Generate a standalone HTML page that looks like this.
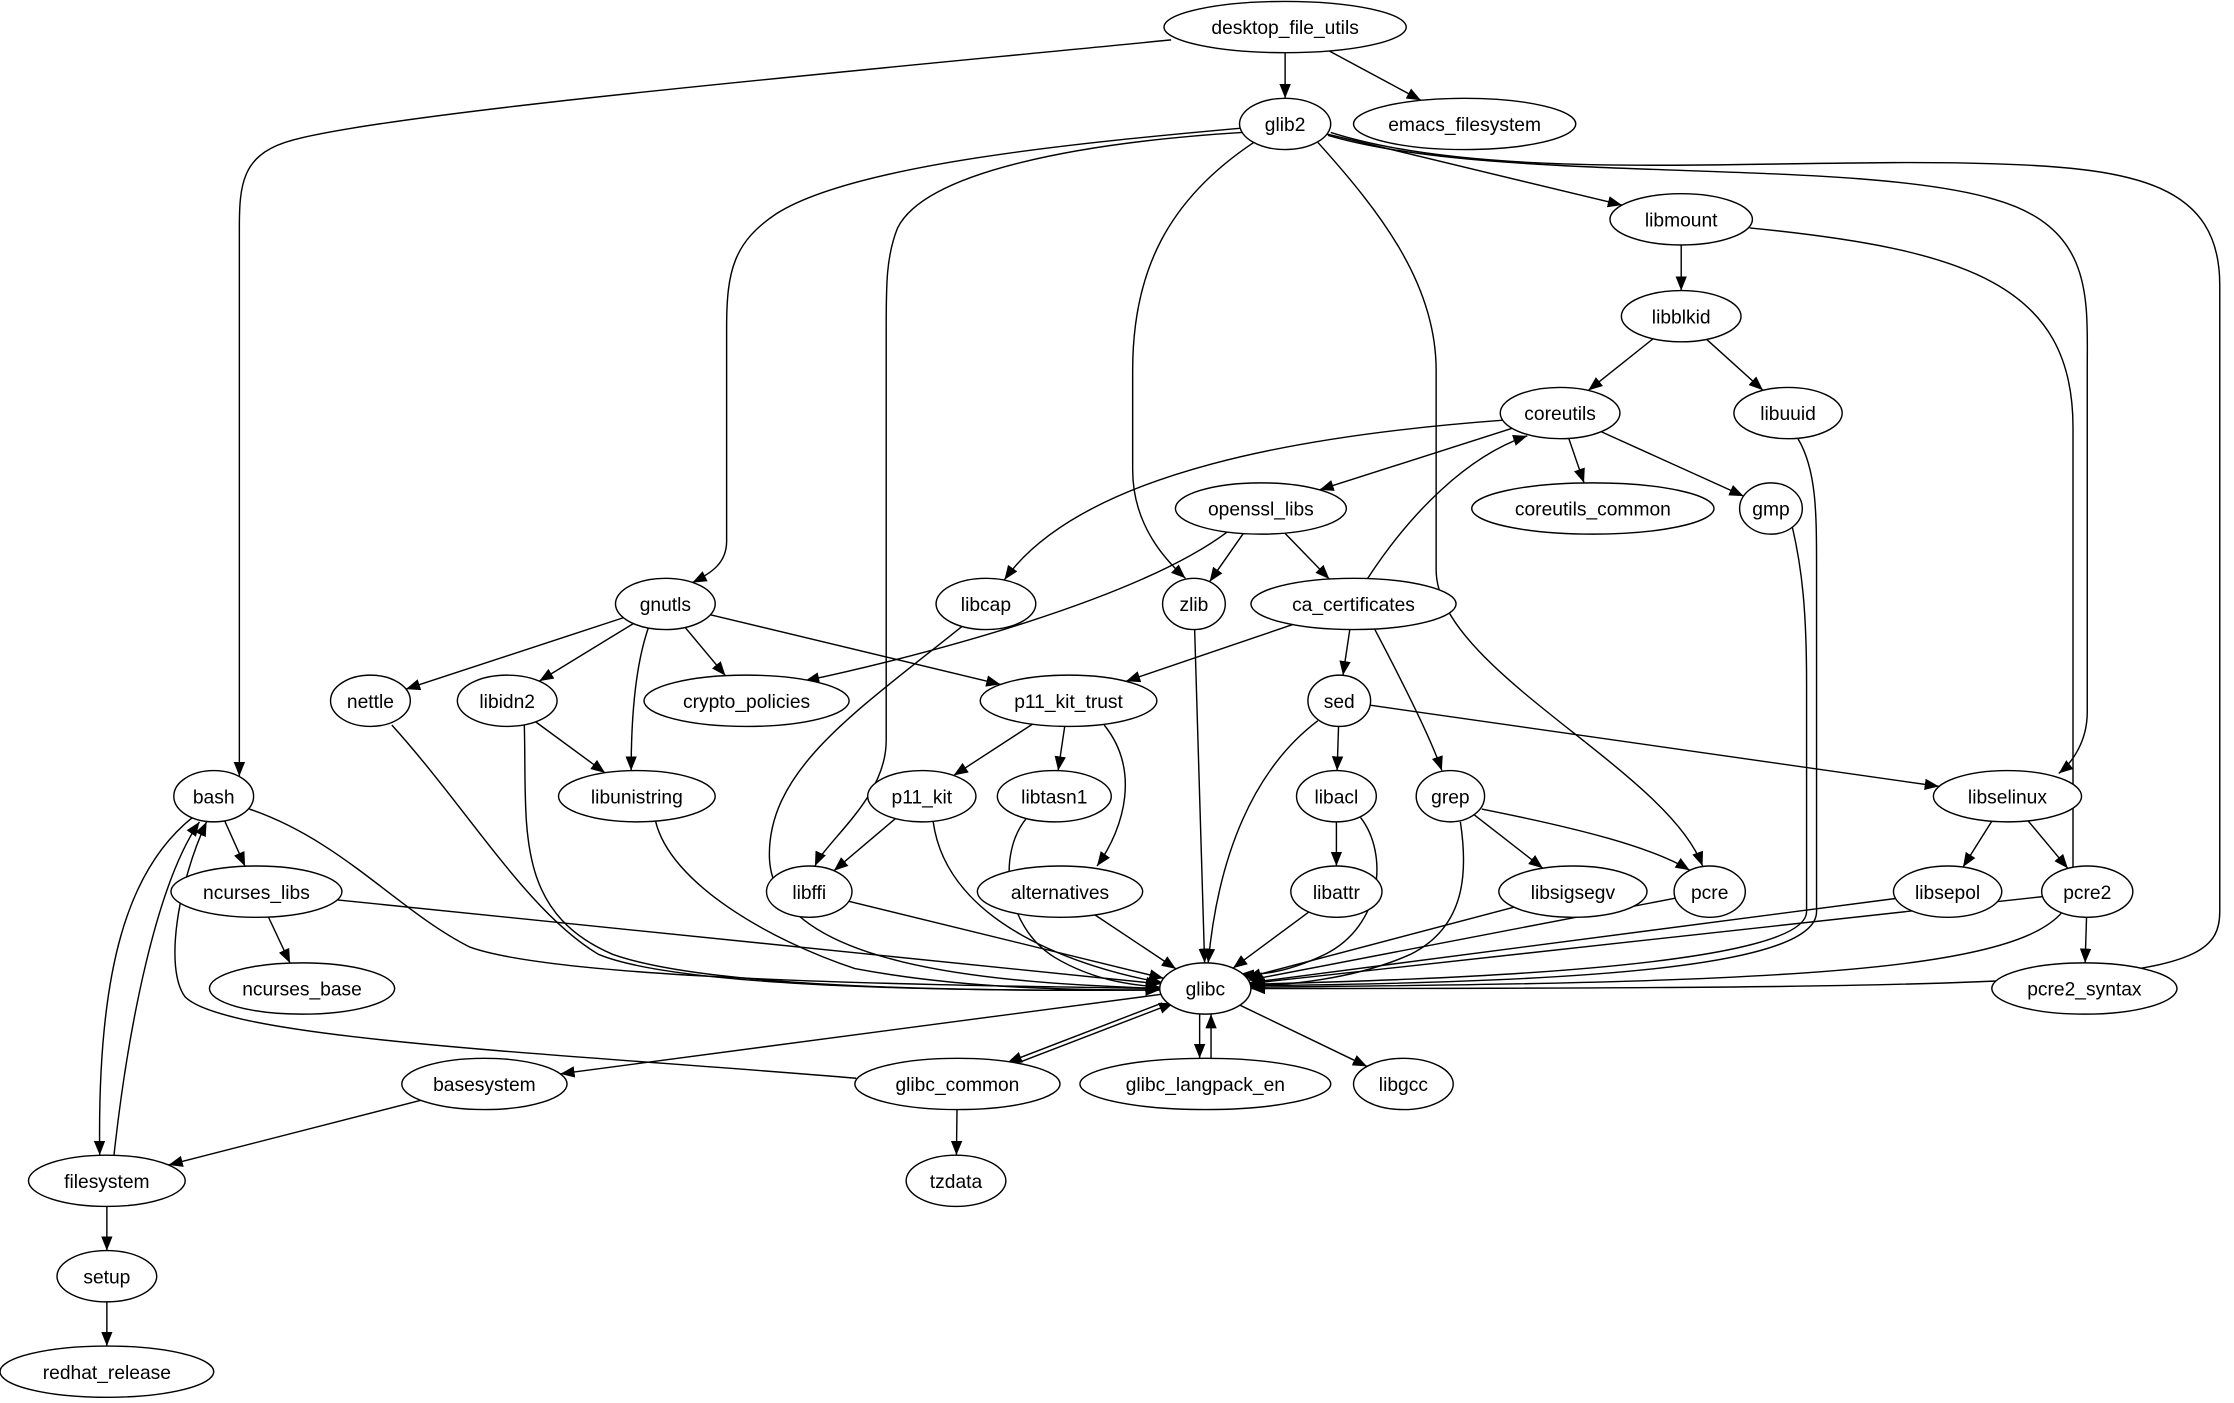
<!DOCTYPE html>
<html><head><meta charset="utf-8"><style>
html,body{margin:0;padding:0;background:#fff;}
svg{display:block;}
text{font-family:"Liberation Sans","DejaVu Sans",sans-serif;font-size:13.5px;fill:#000;}
</style></head><body>
<svg id="g" width="2234" height="1403" viewBox="0 0 1568 985" preserveAspectRatio="none" xmlns="http://www.w3.org/2000/svg">
<defs><marker id="a" markerUnits="userSpaceOnUse" markerWidth="12" markerHeight="10" refX="10" refY="4" orient="auto"><path d="M0,0 L10,4 L0,8 z" fill="#000"/></marker></defs>
<g id="E"></g><g id="N"></g>
</svg>
<script>
var N={
desktop_file_utils:[902,19,85],glib2:[902,87,32],emacs_filesystem:[1028,87,78],libmount:[1180,154,50],
libblkid:[1180,222,42],coreutils:[1095,290,42],libuuid:[1255,290,38],openssl_libs:[885,357,60],
coreutils_common:[1118,357,85],gmp:[1243,357,22],gnutls:[467,424,35],libcap:[692,424,35],zlib:[838,424,22],
ca_certificates:[950,424,72],nettle:[260,492,28],libidn2:[356,492,35],crypto_policies:[524,492,72],
p11_kit_trust:[750,492,62],sed:[940,492,22],bash:[150,559,28],libunistring:[447,559,55],p11_kit:[647,559,38],
libtasn1:[740,559,40],libacl:[938,559,28],grep:[1018,559,24],libselinux:[1409,559,52],ncurses_libs:[180,626,60],
libffi:[568,626,30],alternatives:[744,626,58],libattr:[938,626,32],libsigsegv:[1104,626,52],pcre:[1200,626,25],
libsepol:[1367,626,38],pcre2:[1465,626,32],ncurses_base:[212,694,65],glibc:[846,694,32],pcre2_syntax:[1463,694,65],
basesystem:[340,761,58],glibc_common:[672,761,72],glibc_langpack_en:[846,761,88],libgcc:[985,761,35],
filesystem:[75,829,55],tzdata:[671,829,35],setup:[75,896,35],redhat_release:[75,963,75]};
var RY=18;
var E=[
["desktop_file_utils","glib2"],["desktop_file_utils","emacs_filesystem"],
"M822,28 C600,50 260,80 200,100 C170,110 168,130 168,160 L168,545",
"M871,90 C760,100 600,115 545,150 C515,170 510,190 510,230 L510,380 C510,395 500,402 486,409",
"M872,93 C760,100 650,120 630,160 C622,180 622,200 622,230 L622,520 C622,560 580,590 572,608",
"M880,100 C820,140 795,190 795,260 L795,330 C795,370 820,395 832,406",
"M925,100 C970,150 1008,200 1008,260 L1008,400 C1008,470 1170,540 1195,608",
["glib2","libmount"],
"M932,95 C1050,130 1300,110 1400,140 C1470,160 1465,210 1465,260 L1465,500 C1465,520 1455,535 1445,543",
"M934,93 C1050,130 1250,110 1400,115 C1500,118 1558,130 1558,200 L1558,640 C1558,690 1500,694 878,694",
["libmount","libblkid"],
"M1228,160 C1380,175 1455,200 1455,300 L1455,620 C1455,680 1300,690 878,693",
["libblkid","coreutils"],["libblkid","libuuid"],
"M1262,308 C1275,330 1275,360 1275,400 L1275,640 C1275,680 1100,690 878,692",
["coreutils","openssl_libs"],["coreutils","coreutils_common"],["coreutils","gmp"],
"M1055,295 C920,305 760,330 705,407",
"M1258,370 C1265,400 1268,430 1268,480 L1268,640 C1268,680 1000,688 878,691",
["openssl_libs","zlib"],["openssl_libs","ca_certificates"],
"M862,373 C800,420 650,460 565,478",
"M960,406 C990,360 1030,320 1072,306",
["ca_certificates","p11_kit_trust"],["ca_certificates","sed"],
"M965,442 C985,480 1005,520 1012,541",
["gnutls","nettle"],["gnutls","libidn2"],["gnutls","crypto_policies"],["gnutls","p11_kit_trust"],
"M455,441 C445,470 443,510 443,541",
"M675,440 C600,500 540,540 540,600 C540,680 700,690 814,694",
["zlib","glibc"],
"M275,509 C330,570 370,640 420,670 C480,695 700,696 814,695",
["libidn2","libunistring"],
"M368,509 C370,580 360,640 430,670 C500,695 700,696 814,695",
["p11_kit_trust","p11_kit"],["p11_kit_trust","libtasn1"],
"M775,509 C800,540 790,580 770,608",
["sed","libselinux"],["sed","libacl"],
"M925,506 C880,540 855,600 848,676",
["bash","ncurses_libs"],
"M175,568 C240,590 280,640 330,665 C400,690 700,692 814,694",
"M135,574 C90,610 68,680 70,811",
"M460,576 C470,620 540,660 600,680 C680,695 760,695 814,695",
["p11_kit","libffi"],
"M655,577 C665,650 760,680 816,690",
"M720,575 C700,600 705,650 740,672 C770,690 800,692 814,693",
["libacl","libattr"],
"M955,574 C975,600 970,650 930,670 C905,682 885,685 870,684",
"M1040,568 C1110,582 1160,595 1186,611",
["grep","libsigsegv"],
"M1025,577 C1030,610 1030,650 990,670 C950,688 900,692 877,692",
["libselinux","libsepol"],["libselinux","pcre2"],
["ncurses_libs","ncurses_base"],["ncurses_libs","glibc"],
["libffi","glibc"],["alternatives","glibc"],["libattr","glibc"],["libsigsegv","glibc"],
["pcre","glibc"],["libsepol","glibc"],["pcre2","glibc"],["pcre2","pcre2_syntax"],
["glibc","basesystem"],["glibc","glibc_common",null,-4],["glibc_common","glibc",null,4],
["glibc","glibc_langpack_en",null,-4],["glibc_langpack_en","glibc",null,4],["glibc","libgcc"],
["glibc_common","tzdata"],
"M601,757 C400,740 160,730 130,700 C115,680 125,620 145,577",
["basesystem","filesystem"],
"M80,811 C90,720 110,620 140,577",
["filesystem","setup"],["setup","redhat_release"]];
function clip(n,tx,ty,off){var cx=n[0]+(off||0),cy=n[1],rx=n[2],dx=tx-cx,dy=ty-cy;
var t=1/Math.sqrt(dx*dx/(rx*rx)+dy*dy/(RY*RY));return [cx+dx*t,cy+dy*t];}
var s='';
E.forEach(function(e){var d;
if(typeof e==='string'){d=e;}else{var a=N[e[0]],b=N[e[1]],o=e[3]||0;
var p=clip(a,b[0]+o,b[1],o),q=clip(b,a[0]+o,a[1],o);
d='M'+p[0].toFixed(1)+','+p[1].toFixed(1)+' L'+q[0].toFixed(1)+','+q[1].toFixed(1);}
s+='<path d="'+d+'" fill="none" stroke="#000" stroke-width="1" marker-end="url(#a)"/>';});
document.getElementById('E').innerHTML=s;
var t='';for(var k in N){var n=N[k];
t+='<ellipse cx="'+n[0]+'" cy="'+n[1]+'" rx="'+n[2]+'" ry="'+RY+'" fill="#fff" stroke="#000"/>';
t+='<text x="'+n[0]+'" y="'+(n[1]+5)+'" text-anchor="middle">'+k+'</text>';}
document.getElementById('N').innerHTML=t;
</script>
</body></html>
